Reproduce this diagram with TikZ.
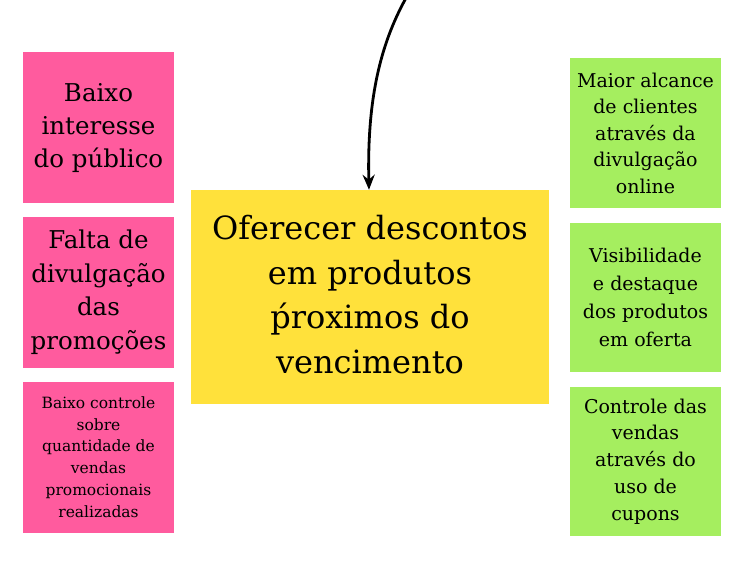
\documentclass[tikz,border=0pt]{standalone}
\usepackage{fontspec}
\setmainfont{DejaVu Serif}
\usetikzlibrary{arrows.meta}
\definecolor{pinkc}{HTML}{FF5B9E}
\definecolor{greenc}{HTML}{A5EE5F}
\definecolor{yellowc}{HTML}{FFE13B}
\tikzset{
  card/.style={inner sep=0pt, align=center, text=black},
  pinkbox/.style={card, fill=pinkc, minimum width=151pt, minimum height=151pt},
  greenbox/.style={card, fill=greenc, minimum width=151pt, minimum height=150pt},
  mainbox/.style={card, fill=yellowc, minimum width=358pt, minimum height=214pt},
  conn/.style={line width=2.8pt, -{Stealth[length=15pt,width=12pt]}}
}
\begin{document}
\begin{tikzpicture}[x=1pt,y=-1pt]
\useasboundingbox (0,0) rectangle (746,562);
\node[pinkbox, minimum height=151pt, text depth=0pt] (p1) at (98.5,127.5) {};
\node[font=\fontsize{24.5}{33}\selectfont, card] (p1t) at (98.5,128.5) {Baixo\\interesse\\do público};
\node[pinkbox, font=\fontsize{24.5}{33.5}\selectfont] (p2) at (98.5,292) {Falta de\\divulgação\\das\\promoções};
\node[pinkbox, font=\fontsize{15.5}{21.8}\selectfont] (p3) at (98.5,457) {Baixo controle\\sobre\\quantidade de\\vendas\\promocionais\\realizadas};
\node[mainbox] (m) at (370,297) {};
\node[card, font=\fontsize{32}{44.5}\selectfont] (mt) at (370,294.5) {Oferecer descontos\\em produtos\\ṕroximos do\\vencimento};
\node[greenbox, font=\fontsize{19}{26.5}\selectfont] (g1) at (645.5,133) {Maior alcance\\de clientes\\através da\\divulgação\\online};
\node[greenbox, minimum height=149pt, font=\fontsize{19}{27.8}\selectfont] (g2) at (645.5,297.5) {Visibilidade\\e destaque\\dos produtos\\em oferta};
\node[greenbox, minimum height=149pt, font=\fontsize{19}{26.8}\selectfont] (g3) at (645.5,461.5) {Controle das\\vendas\\através do\\uso de\\cupons};
\coordinate (src) at (406,-2);
\draw[conn] (src) .. controls (380,45) and (367,100) .. (m.north -| 369,0);
\end{tikzpicture}
\end{document}
